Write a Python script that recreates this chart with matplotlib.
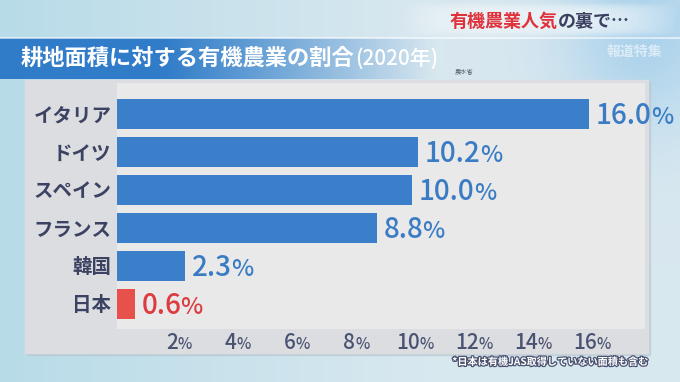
import numpy as np
import matplotlib.pyplot as plt
from matplotlib.patches import Rectangle
import matplotlib.patheffects as pe

plt.rcParams['font.family'] = ['Noto Sans CJK JP', 'DejaVu Sans']

# data
countries = ['イタリア', 'ドイツ', 'スペイン', 'フランス', '韓国', '日本']
shares = [16.0, 10.2, 10.0, 8.8, 2.3, 0.6]
tick_vals = [2, 4, 6, 8, 10, 12, 14, 16]

blue = '#3b7fca'
red = '#e6514b'
navy = '#3b4262'

fig = plt.figure(figsize=(6.8, 3.82), dpi=100)

# background in pixel coords
bg = fig.add_axes([0, 0, 1, 1])
bg.set_xlim(0, 680)
bg.set_ylim(382, 0)
bg.axis('off')

yy, xx = np.mgrid[0:1:120j, 0:1:200j]
c1 = np.array([0.72, 0.86, 0.91])   # left
c2 = np.array([0.85, 0.91, 0.94])   # middle / bottom
c3 = np.array([0.60, 0.79, 0.92])   # top right glow
w = np.clip(xx * 1.6, 0, 1)[..., None]
img = c1 * (1 - w) + c2 * w
glow = np.exp(-(((xx - 0.95) / 0.12) ** 2 + ((yy - 0.08) / 0.25) ** 2))[..., None]
img = img * (1 - 0.7 * glow) + c3 * 0.7 * glow
bg.imshow(img, extent=(0, 680, 382, 0), aspect='auto', zorder=0)

# soft light area behind header text
hx, hy = np.meshgrid(np.linspace(-1, 1, 120), np.linspace(-1, 1, 30))
hdr = np.ones((30, 120, 4))
hdr[..., :3] = [0.95, 0.97, 0.98]
hdr[..., 3] = 0.7 * np.clip(1 - np.abs(hx) ** 4, 0, 1) * np.clip(1 - np.abs(hy) ** 4, 0, 1)
bg.imshow(hdr, extent=(400, 680, 38, 2), aspect='auto', zorder=1)
bg.plot([0, 680], [38, 38], color='white', lw=1.2, alpha=0.7, zorder=2)

# title bar with fading gradient
bar = np.ones((10, 200, 4))
bar[..., :3] = [0.19, 0.49, 0.79]
bar[..., 3] = np.clip(1.6 - np.linspace(0, 1, 200) * 1.9, 0, 1)
bg.imshow(bar, extent=(0, 520, 79, 38), aspect='auto', zorder=1)

t1 = bg.text(21, 58, '耕地面積に対する有機農業の割合', color='white', fontsize=16,
             fontweight='bold', va='center', ha='left', zorder=3)
bg.annotate('(2020年)', xy=(1, 0), xycoords=t1, xytext=(0, 0), textcoords='offset pixels',
            color='white', fontsize=15, fontweight='medium', va='bottom', ha='left', zorder=3)
bg.text(455, 71, '農水省', color='#555a66', fontsize=4.5, va='center', zorder=3)
bg.text(634, 52, '報道特集', color='white', alpha=0.55, fontsize=10, fontweight='bold',
        va='center', ha='center', zorder=3)

h1 = bg.text(450, 21, '有機農業人気', color='#e0323c', fontsize=13, fontweight='bold',
             va='center', ha='left', zorder=3)
bg.annotate('の裏で…', xy=(1, 0.5), xycoords=h1, color='#3a4060', fontsize=13,
            fontweight='bold', va='center', ha='left', zorder=3)

# panel
bg.add_patch(Rectangle((27, 82), 623, 273, color='#b9c6cf', alpha=0.6, zorder=1))
bg.add_patch(Rectangle((25, 80), 623, 273, color='#dcdde0', zorder=2))

# chart axes
ax = fig.add_axes([117 / 680, 53 / 382, 528 / 680, 246 / 382])
ax.set_facecolor('#e9e9ea')
y = np.arange(len(countries))
colors = [blue] * (len(countries) - 1) + [red]
ax.barh(y, shares, height=0.79, color=colors)
ax.set_xlim(0, 528 / 29.5)
ax.set_ylim(5.66, -0.816)
for s in ax.spines.values():
    s.set_visible(False)
ax.set_yticks(y)
ax.set_yticklabels(countries, fontsize=14, fontweight='bold', color=navy)
ax.tick_params(axis='y', length=0, pad=4)
ax.set_xticks(tick_vals)
ax.set_xticklabels([])
ax.tick_params(axis='x', length=0)

# value labels with smaller %
for i, v in enumerate(shares):
    col = '#dd3b3f' if i == len(shares) - 1 else '#3a7cc4'
    t = ax.annotate(f'{v:.1f}', xy=(v, i), xytext=(7, -10), textcoords='offset pixels',
                    fontsize=20, fontweight='medium', color=col, va='baseline', ha='left',
                    annotation_clip=False)
    ax.annotate('%', xy=(1, i), xycoords=(t, 'data'), xytext=(-1, -10),
                textcoords='offset pixels', fontsize=17, fontweight='medium', color=col,
                va='baseline', ha='left', annotation_clip=False)

# x tick labels with smaller %
xtr = ax.get_xaxis_transform()
for tv in tick_vals:
    t = ax.annotate(str(tv), xy=(tv, 0), xycoords=xtr, xytext=(-4, -20),
                    textcoords='offset pixels', fontsize=15, fontweight='medium',
                    color='#4a5272', va='baseline', ha='center', annotation_clip=False)
    ax.annotate('%', xy=(1, 0), xycoords=(t, xtr), xytext=(0, -20),
                textcoords='offset pixels', fontsize=11, fontweight='medium', color='#4a5272',
                va='baseline', ha='left', annotation_clip=False)

# footnote
bg.text(648, 362, '*日本は有機JAS取得していない面積も含む', color='white', fontsize=7.3,
        fontweight='bold', ha='right', va='center', zorder=3,
        path_effects=[pe.withStroke(linewidth=1.8, foreground='#4a5272')])

fig.savefig('out.png', dpi=100)
